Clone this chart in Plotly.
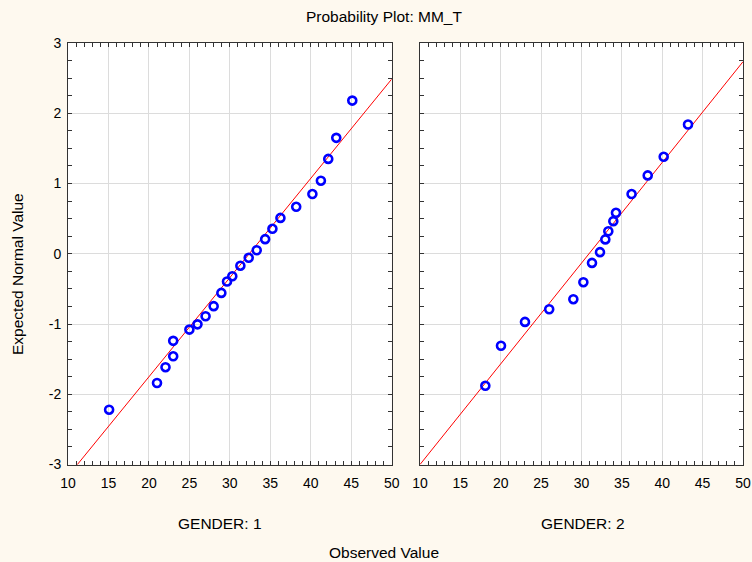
import plotly.graph_objects as go

# Normal probability plot of MM_T, split by GENDER
obs_g1 = [15.08, 21.0, 22.05, 23.0, 23.0, 25.0, 26.0, 27.0, 28.0, 28.95, 29.65, 30.3,
          31.3, 32.33, 33.32, 34.36, 35.26, 36.25, 38.2, 40.2, 41.25, 42.16, 43.15, 45.13]
exp_g1 = [-2.22, -1.84, -1.615, -1.46, -1.24, -1.08, -1.005, -0.89, -0.746, -0.557, -0.395, -0.32,
          -0.17, -0.058, 0.05, 0.208, 0.355, 0.51, 0.668, 0.85, 1.04, 1.35, 1.65, 2.18]

obs_g2 = [18.09, 20.03, 23.0, 26.0, 28.99, 30.23, 31.3, 32.29, 32.95, 33.32, 33.94, 34.27,
          36.2, 38.2, 40.18, 43.19]
exp_g2 = [-1.88, -1.31, -0.97, -0.79, -0.647, -0.405, -0.13, 0.023, 0.204, 0.32, 0.464, 0.583,
          0.85, 1.115, 1.38, 1.84]

# fitted normal reference lines (mean, sd) per group
fit_g1 = (32.4, 7.08)
fit_g2 = (30.93, 6.976)

x_range = [10, 50]
y_range = [-3, 3]
x_ticks = [10, 15, 20, 25, 30, 35, 40, 45, 50]
y_ticks = [-3, -2, -1, 0, 1, 2, 3]
y_tick_text = ["-3", "-2", "-1", "0", "1", "2", "3"]
panel_labels = ["GENDER: 1", "GENDER: 2"]

W, H = 752, 562
BG = "#FEF9EF"
FONT = "Liberation Sans, Arial, sans-serif"

fig = go.Figure()

groups = [(obs_g1, exp_g1, fit_g1, "x", "y"), (obs_g2, exp_g2, fit_g2, "x2", "y2")]
for obs, exp, (mu, sd), xa, ya in groups:
    line_x = list(x_range)
    line_y = [(v - mu) / sd for v in line_x]
    fig.add_trace(go.Scatter(x=line_x, y=line_y, mode="lines",
                             line=dict(color="#FF0000", width=1),
                             xaxis=xa, yaxis=ya, hoverinfo="skip", showlegend=False))
    fig.add_trace(go.Scatter(x=obs, y=exp, mode="markers",
                             marker=dict(symbol="circle-open", size=8, color="#0000FF",
                                         line=dict(width=2.6, color="#0000FF")),
                             xaxis=xa, yaxis=ya, showlegend=False, cliponaxis=True))

# panel geometry in pixels
left1, right1 = 68, 391.7
left2, right2 = 420, 743
top, bottom = 43, 464.5

def px_x(p):
    return p / W

def px_y(p):
    return 1 - p / H

axis_common = dict(
    showline=True, linecolor="#333333", linewidth=1, mirror="ticks",
    ticks="inside", ticklen=4, tickcolor="#333333", tickwidth=1,
    showgrid=True, gridcolor="#DCDCDC", gridwidth=1, zeroline=False,
    automargin=False,
    tickfont=dict(family=FONT, size=14, color="#000000"),
)

xaxis_common = dict(axis_common, range=x_range, tickmode="array", tickvals=x_ticks,
                    minor=dict(dtick=1, ticks="inside", ticklen=4, tickcolor="#333333",
                               showgrid=False))
yaxis_common = dict(axis_common, range=y_range, tickmode="array", tickvals=y_ticks,
                    ticktext=y_tick_text,
                    minor=dict(dtick=0.25, ticks="inside", ticklen=4, tickcolor="#333333",
                               showgrid=False))

fig.update_layout(
    width=W, height=H,
    margin=dict(l=0, r=0, t=0, b=0, autoexpand=False),
    paper_bgcolor=BG, plot_bgcolor="#FFFFFF",
    xaxis=dict(xaxis_common, domain=[px_x(left1), px_x(right1)], anchor="y", ticklabelstandoff=6),
    yaxis=dict(yaxis_common, domain=[px_y(bottom), px_y(top)], anchor="x", ticklabelstandoff=3),
    xaxis2=dict(xaxis_common, domain=[px_x(left2), px_x(right2)], anchor="y2", ticklabelstandoff=6),
    yaxis2=dict(yaxis_common, domain=[px_y(bottom), px_y(top)], anchor="x2",
                showticklabels=False, matches="y"),
    font=dict(family=FONT, color="#000000"),
)

label_font = dict(family=FONT, size=15.5, color="#000000")
annotations = [
    dict(text="Probability Plot: MM_T", x=px_x(384), y=px_y(17)),
    dict(text=panel_labels[0], x=px_x(220), y=px_y(523)),
    dict(text=panel_labels[1], x=px_x(583), y=px_y(523)),
    dict(text="Observed Value", x=px_x(384), y=px_y(552)),
    dict(text="Expected Normal Value", x=px_x(17), y=px_y(274), textangle=-90),
]
for a in annotations:
    fig.add_annotation(xref="paper", yref="paper", showarrow=False,
                       xanchor="center", yanchor="middle", font=label_font, **a)

fig.write_html("out.html")
